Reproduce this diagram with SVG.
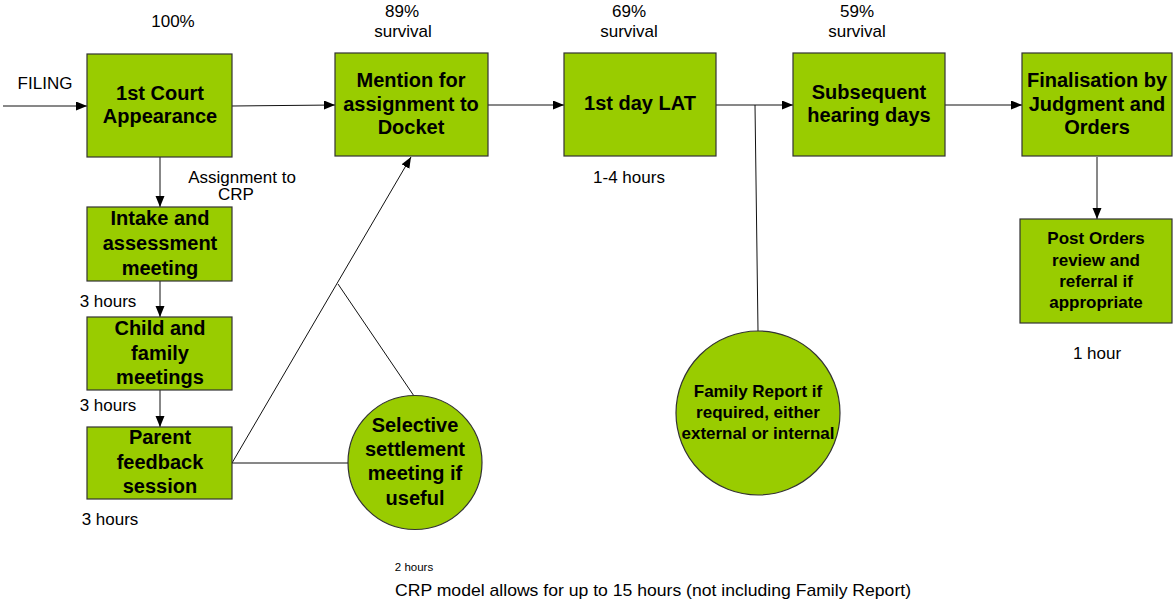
<svg xmlns="http://www.w3.org/2000/svg" width="1174" height="608" viewBox="0 0 1174 608">
<style>
.box{fill:#99cc00;stroke:#333;stroke-width:1.2}
.bt{font-family:"Liberation Sans",Arial,sans-serif;font-weight:bold;font-size:20px;fill:#000;text-anchor:middle}
.bs{font-family:"Liberation Sans",Arial,sans-serif;font-weight:bold;font-size:17px;fill:#000;text-anchor:middle}
.lb{font-family:"Liberation Sans",Arial,sans-serif;font-size:17px;fill:#000;text-anchor:middle}
.ln{stroke:#111;stroke-width:1;fill:none}
</style>
<defs>
<marker id="ah" markerUnits="userSpaceOnUse" markerWidth="12" markerHeight="10" refX="11" refY="4.5" orient="auto">
<path d="M0,0 L11,4.5 L0,9 z" fill="#000"/>
</marker>
</defs>
<rect width="1174" height="608" fill="#fff"/>

<g id="connectors">
<line class="ln" x1="3" y1="106" x2="87" y2="106" marker-end="url(#ah)"/>
<line class="ln" x1="232" y1="106" x2="335" y2="105" marker-end="url(#ah)"/>
<line class="ln" x1="488" y1="105" x2="564" y2="105" marker-end="url(#ah)"/>
<line class="ln" x1="716" y1="105" x2="793" y2="105" marker-end="url(#ah)"/>
<line class="ln" x1="945" y1="105" x2="1022" y2="105" marker-end="url(#ah)"/>
<line class="ln" x1="160" y1="157" x2="160" y2="207" marker-end="url(#ah)"/>
<line class="ln" x1="160" y1="281" x2="160" y2="317" marker-end="url(#ah)"/>
<line class="ln" x1="160" y1="390" x2="160" y2="427" marker-end="url(#ah)"/>
<line class="ln" x1="1097" y1="157" x2="1097" y2="219" marker-end="url(#ah)"/>
<line class="ln" x1="232" y1="463" x2="411" y2="157" marker-end="url(#ah)"/>
<line class="ln" x1="232" y1="463" x2="348" y2="463"/>
<line class="ln" x1="338" y1="284" x2="414" y2="396"/>
<line class="ln" x1="755" y1="105" x2="758" y2="331"/>
</g>

<g id="labels">
<text class="lb" x="173" y="27">100%</text>
<text class="lb" x="402" y="17">89%</text>
<text class="lb" x="403" y="37">survival</text>
<text class="lb" x="629" y="17">69%</text>
<text class="lb" x="629" y="37">survival</text>
<text class="lb" x="857" y="17">59%</text>
<text class="lb" x="857" y="37">survival</text>
<text class="lb" x="45" y="89">FILING</text>
<text class="lb" x="242" y="183">Assignment to</text>
<text class="lb" x="236" y="200">CRP</text>
<text class="lb" x="108" y="307">3 hours</text>
<text class="lb" x="108" y="411">3 hours</text>
<text class="lb" x="110" y="525">3 hours</text>
<text class="lb" x="629" y="183">1-4 hours</text>
<text class="lb" x="1097" y="359">1 hour</text>
<text class="lb" x="414" y="571" style="font-size:11.5px">2 hours</text>
<text class="lb" x="395" y="596" style="text-anchor:start" textLength="516" lengthAdjust="spacingAndGlyphs">CRP model allows for up to 15 hours (not including Family Report)</text>
</g>

<g id="n-court">
<rect class="box" x="87" y="54" width="145" height="103"/>
<text class="bt" x="160" y="100">1st Court</text>
<text class="bt" x="160" y="123">Appearance</text>
</g>
<g id="n-docket">
<rect class="box" x="335" y="53" width="153" height="103"/>
<text class="bt" x="411" y="87">Mention for</text>
<text class="bt" x="411" y="111">assignment to</text>
<text class="bt" x="411" y="134">Docket</text>
</g>
<g id="n-lat">
<rect class="box" x="564" y="53" width="152" height="103"/>
<text class="bt" x="640" y="110">1st day LAT</text>
</g>
<g id="n-subsequent">
<rect class="box" x="793" y="53" width="152" height="103"/>
<text class="bt" x="869" y="99">Subsequent</text>
<text class="bt" x="869" y="122">hearing days</text>
</g>
<g id="n-final">
<rect class="box" x="1022" y="53" width="150" height="103"/>
<text class="bt" x="1097" y="87">Finalisation by</text>
<text class="bt" x="1097" y="111">Judgment and</text>
<text class="bt" x="1097" y="134">Orders</text>
</g>
<g id="n-intake">
<rect class="box" x="87" y="207" width="145" height="74"/>
<text class="bt" x="160" y="225">Intake and</text>
<text class="bt" x="160" y="250">assessment</text>
<text class="bt" x="160" y="275">meeting</text>
</g>
<g id="n-child">
<rect class="box" x="87" y="317" width="145" height="73"/>
<text class="bt" x="160" y="335">Child and</text>
<text class="bt" x="160" y="360">family</text>
<text class="bt" x="160" y="384">meetings</text>
</g>
<g id="n-parent">
<rect class="box" x="87" y="427" width="145" height="72"/>
<text class="bt" x="160" y="444">Parent</text>
<text class="bt" x="160" y="469">feedback</text>
<text class="bt" x="160" y="493">session</text>
</g>
<g id="n-settlement">
<circle class="box" cx="415" cy="462.5" r="67"/>
<text class="bt" x="415" y="432">Selective</text>
<text class="bt" x="415" y="456">settlement</text>
<text class="bt" x="415" y="480">meeting if</text>
<text class="bt" x="415" y="505">useful</text>
</g>
<g id="n-family">
<circle class="box" cx="758" cy="413" r="82"/>
<text class="bs" x="758" y="397">Family Report if</text>
<text class="bs" x="758" y="418">required, either</text>
<text class="bs" x="758" y="439">external or internal</text>
</g>
<g id="n-post">
<rect class="box" x="1020" y="219" width="152" height="104"/>
<text class="bs" x="1096" y="244">Post Orders</text>
<text class="bs" x="1096" y="266">review and</text>
<text class="bs" x="1096" y="287">referral if</text>
<text class="bs" x="1096" y="308">appropriate</text>
</g>
</svg>
